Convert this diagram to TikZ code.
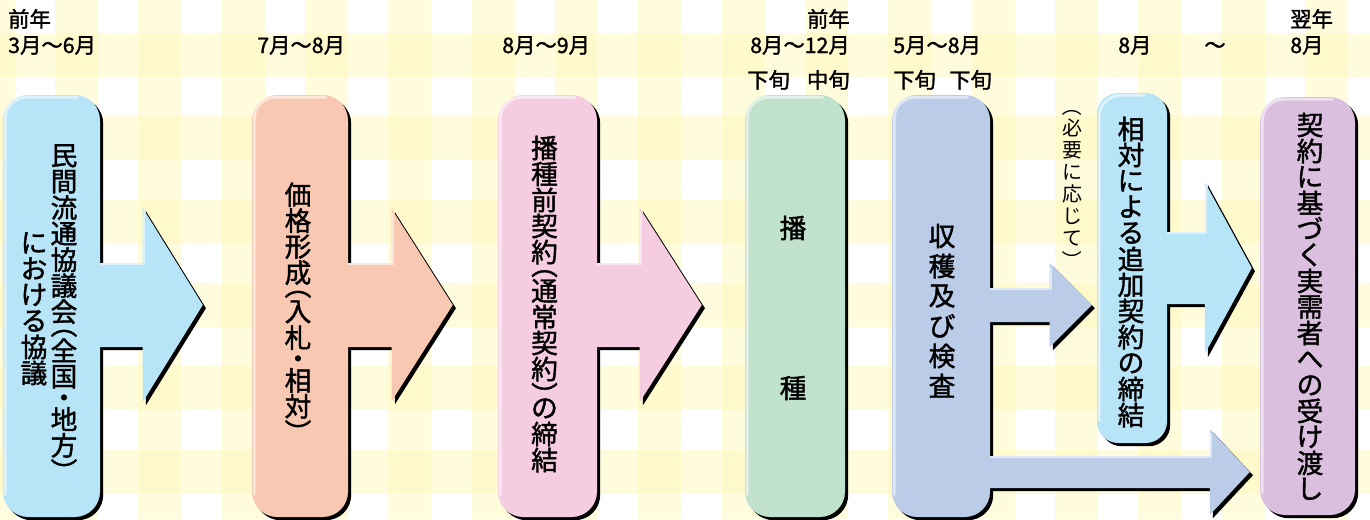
\documentclass[tikz,border=0pt]{standalone}
\usepackage{fontspec}
\usepackage{graphicx}
\usetikzlibrary{calc,shadows}
\newfontfamily\jp[FakeBold=1.5]{Noto Sans CJK JP}
\newfontfamily\jpl{Noto Sans CJK JP}
\definecolor{cBlue}{RGB}{184,228,247}
\definecolor{cSal}{RGB}{248,200,178}
\definecolor{cPink}{RGB}{246,204,224}
\definecolor{cGreen}{RGB}{192,226,204}
\definecolor{cLav}{RGB}{186,204,232}
\definecolor{cPurp}{RGB}{218,192,222}
\definecolor{bgChk}{RGB}{255,252,222}
\definecolor{bgSol}{RGB}{255,249,204}
\newlength\vp
\newlength\vw
\setlength\vw{30pt}
\setlength\vp{19.5pt}
\makeatletter
\newcommand\vch[1]{\hbox to \vw{\hss\vbox to \vp{\vss\hbox{\vphantom{国}#1}\vss}\hss}}
\def\LP{\relax L}\def\RP{\relax R}\def\DOT{\relax D}
\newcommand\vitem[1]{%
  \ifx#1\LP\kern-.5\vp\vch{\rotatebox[origin=c]{-90}{\vphantom{国}（}}%
  \else\ifx#1\RP\vch{\rotatebox[origin=c]{-90}{\vphantom{国}）}}\kern-.5\vp
  \else\ifx#1\DOT\kern-.18\vp\vch{・}\kern-.18\vp
  \else\vch{#1}\fi\fi\fi}
\newcommand\vstack[1]{\vbox{\offinterlineskip\@tfor\vc@ch:=#1\do{\expandafter\vitem\expandafter{\vc@ch}}}}
\makeatother
% T-shaped arrow leaving a box: #1 from node, #2 tip coordinate, #3 stem half, #4 head length, #5 head half (px), #6 colour
\newcommand\tarrow[6]{%
  \fill[black,transform canvas={shift={(2.4pt,-2.4pt)}}] let \p1=(#1.east), \p2=(#2) in
    (\x1-0.75pt,\y2+#3*0.75pt) -- (\x2-#4*0.75pt,\y2+#3*0.75pt) -- (\x2-#4*0.75pt,\y2+#5*0.75pt) -- (\x2,\y2)
    -- (\x2-#4*0.75pt,\y2-#5*0.75pt) -- (\x2-#4*0.75pt,\y2-#3*0.75pt) -- (\x1-0.75pt,\y2-#3*0.75pt) -- cycle;
  \fill[#6] let \p1=(#1.east), \p2=(#2) in
    (\x1-0.75pt,\y2+#3*0.75pt) -- (\x2-#4*0.75pt,\y2+#3*0.75pt) -- (\x2-#4*0.75pt,\y2+#5*0.75pt) -- (\x2,\y2)
    -- (\x2-#4*0.75pt,\y2-#5*0.75pt) -- (\x2-#4*0.75pt,\y2-#3*0.75pt) -- (\x1-0.75pt,\y2-#3*0.75pt) -- cycle;
  \draw[hl,line width=1.5pt] let \p1=(#1.east), \p2=(#2) in
    (\x1,\y2+#3*0.75pt-0.75pt) -- (\x2-#4*0.75pt+0.75pt,\y2+#3*0.75pt-0.75pt) -- (\x2-#4*0.75pt+0.75pt,\y2+#5*0.75pt-3pt);
}
\newcommand\boxhl[1]{%
  \draw[hl,rounded corners=16pt] ($(#1.south west)+(2.5,22)$) -- ($(#1.north west)+(2.5,-2.5)$) -- ($(#1.north east)+(-22,-2.5)$);}
\begin{document}
\begin{tikzpicture}[x=0.75pt,y=0.75pt,
  stepbox/.style={rounded corners=19pt,inner sep=0pt,minimum height=316.5pt,
    drop shadow={shadow xshift=2.4pt,shadow yshift=-2.4pt,fill=black,opacity=1}},
  hl/.style={draw=white,opacity=.55,line width=2.2pt},
  vtext/.style={inner sep=0pt,font={\jp\fontsize{20}{21}\selectfont\setlength\vp{19.5pt}}},
  lbl/.style={inner sep=0pt,font={\jp\fontsize{16}{18}\selectfont}},
]
\useasboundingbox (0,0) rectangle (1370,-519);
% background gingham
\begin{scope}
\clip (0,0) rectangle (1370,-519);
\fill[white] (0,0) rectangle (1370,-519);
\foreach \i in {-1,...,16} \fill[bgChk] ({55+83.33*\i},0) rectangle ++(43,-519);
\foreach \j in {0,...,5} \fill[bgChk] (0,{-33-83.33*\j}) rectangle ++(1370,-44);
\foreach \i in {-1,...,16} \foreach \j in {0,...,5}
  \fill[bgSol] ({55+83.33*\i},{-33-83.33*\j}) rectangle ++(43,-44);
\end{scope}

% boxes and arrows
\node[stepbox,fill=cBlue,minimum width=72.75pt] (b1) at (51.5,-306) {};
\boxhl{b1}
\node[stepbox,fill=cSal,minimum width=72pt] (b2) at (300,-306) {};
\boxhl{b2}
\node[stepbox,fill=cPink,minimum width=74.25pt] (b3) at (547.5,-306) {};
\boxhl{b3}
\node[stepbox,fill=cGreen,minimum width=75pt] (b4) at (795,-306) {};
\boxhl{b4}
\node[stepbox,fill=cLav,minimum width=73.5pt] (b5) at (941,-306) {};
\boxhl{b5}
\node[stepbox,fill=cBlue,minimum width=52.5pt,minimum height=262.5pt,rounded corners=16pt] (b6) at (1132,-268) {};
\boxhl{b6}
\node[stepbox,fill=cPurp,minimum width=71.25pt,minimum height=313.5pt] (b7) at (1307.5,-306) {};
\boxhl{b7}

\coordinate (p1) at ($(b2.west)+(-49,1)$);
\coordinate (p2) at ($(b3.west)+(-45,1)$);
\coordinate (p3) at ($(b4.west)+(-43,1)$);
\coordinate (p4) at ($(b6.west)+(-5,-37)$);
\coordinate (p5) at ($(b7.west)+(-10,-166)$);
\coordinate (p6) at ($(b7.west)+(-8,38)$);
\tarrow{b1}{p1}{42}{60}{97}{cBlue}
\tarrow{b2}{p2}{42}{61}{96}{cSal}
\tarrow{b3}{p3}{42}{62}{97}{cPink}
\tarrow{b5}{p4}{17}{42}{42}{cLav}
\tarrow{b5}{p5}{16}{40}{43}{cLav}
\tarrow{b6}{p6}{36}{47}{86}{cBlue}

% vertical texts
\node[vtext] (b1a) at ($(b1.center)+(12.5,-1)$) {\vstack{民間流通協議会\LP 全国\DOT 地方\RP}};
\node[vtext] (b1b) at ($(b1.center)+(-17.5,-2)$) {\vstack{における協議}};
\node[vtext] (b2t) at ($(b2.center)+(-2,-1)$) {\vstack{価格形成\LP 入札\DOT 相対\RP}};
\node[vtext] (b3t) at ($(b3.center)+(-3,2)$) {\vstack{播種前契約\LP 通常契約\RP の締結}};
\node[vtext] (b4a) at ($(b4.center)+(-2,78)$) {播};
\node[vtext] (b4b) at ($(b4.center)+(-2,-82)$) {種};
\node[vtext,font={\jp\fontsize{20}{21}\selectfont\setlength\vp{22.5pt}}] (b5t) at ($(b5.center)+(1,-5)$) {\vstack{収穫及び検査}};
\node[vtext] (b6t) at ($(b6.center)+(-1,-4)$) {\vstack{相対による追加契約の締結}};
\node[vtext] (b7t) at ($(b7.center)+(2.5,-1)$) {\vstack{契約に基づく実需者への受け渡し}};
\node[inner sep=0pt,font={\jpl\fontsize{15}{16}\selectfont\setlength\vp{16.5pt}}] (note) at (1072,-183) {\vstack{\LP 必要に応じて\RP}};

% top labels
\node[lbl,anchor=base west] (t1) at (8,-27) {前年};
\node[lbl,anchor=base west] (t2) at (8,-53) {3月～6月};
\node[lbl,anchor=base west] (t3) at (257,-53) {7月～8月};
\node[lbl,anchor=base west] (t4) at (502,-53) {8月～9月};
\node[lbl,anchor=base east] (t5) at (850,-27) {前年};
\node[lbl,anchor=base east] (t6) at (850,-53) {8月～12月};
\node[lbl,anchor=base west] (t7) at (747,-88) {下旬};
\node[lbl,anchor=base east] (t8) at (850,-88) {中旬};
\node[lbl,anchor=base west] (t9) at (893,-53) {5月～8月};
\node[lbl,anchor=base west] (t10) at (893,-88) {下旬};
\node[lbl,anchor=base west] (t11) at (949,-88) {下旬};
\node[lbl,anchor=base west] (t12) at (1118,-53) {8月};
\node[lbl,anchor=base west] (t13) at (1204,-53) {～};
\node[lbl,anchor=base west] (t14) at (1290,-27) {翌年};
\node[lbl,anchor=base west] (t15) at (1290,-53) {8月};
\end{tikzpicture}
\end{document}
